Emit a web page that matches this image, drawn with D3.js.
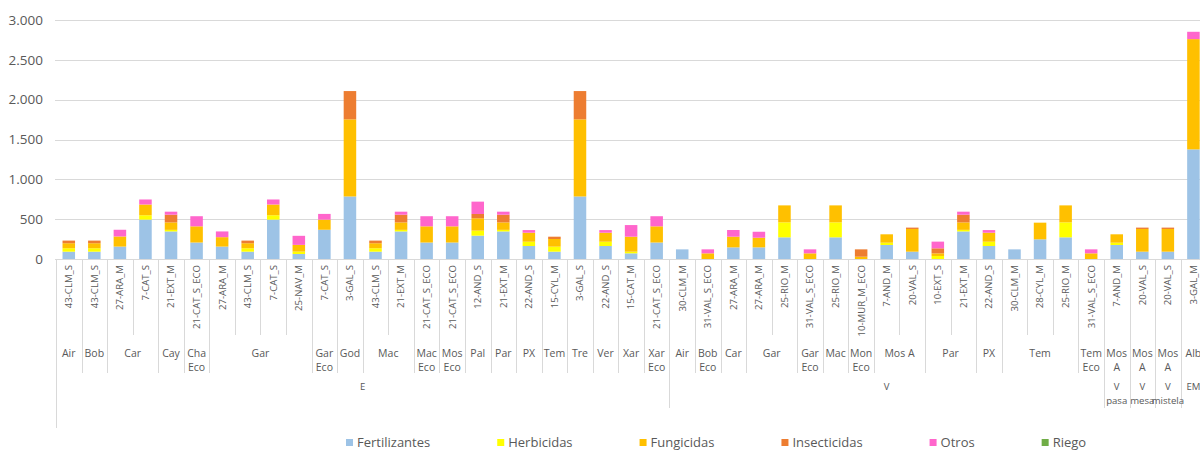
<!DOCTYPE html>
<html>
<head>
<meta charset="utf-8">
<script src="https://cdn.jsdelivr.net/npm/d3@7"></script>
<style>
  body { margin: 0; background: #fff; }
  text { font-family: "Open Sans", sans-serif; fill: #595959; }
</style>
</head>
<body>
<div id="chart"></div>
<script>
var width = 1200,
	height = 450;

// level 1: plot codes
var codes = ["43-CLM_S","43-CLM_S","27-ARA_M","7-CAT_S","21-EXT_M","21-CAT_S_ECO","27-ARA_M","43-CLM_S","7-CAT_S","25-NAV_M",
	"7-CAT_S","3-GAL_S","43-CLM_S","21-EXT_M","21-CAT_S_ECO","21-CAT_S_ECO","12-AND_S","21-EXT_M","22-AND_S","15-CYL_M",
	"3-GAL_S","22-AND_S","15-CAT_M","21-CAT_S_ECO","30-CLM_M","31-VAL_S_ECO","27-ARA_M","27-ARA_M","25-RIO_M","31-VAL_S_ECO",
	"25-RIO_M","10-MUR_M_ECO","7-AND_M","20-VAL_S","10-EXT_S","21-EXT_M","22-AND_S","30-CLM_M","28-CYL_M","25-RIO_M",
	"31-VAL_S_ECO","7-AND_M","20-VAL_S","20-VAL_S","3-GAL_M"];

// level 2: variety
var varieties = ["Air","Bob","Car","Car","Cay","Cha Eco","Gar","Gar","Gar","Gar",
	"Gar Eco","God","Mac","Mac","Mac Eco","Mos Eco","Pal","Par","PX","Tem",
	"Tre","Ver","Xar","Xar Eco","Air","Bob Eco","Car","Gar","Gar","Gar Eco",
	"Mac","Mon Eco","Mos A","Mos A","Par","Par","PX","Tem","Tem","Tem",
	"Tem Eco","Mos A","Mos A","Mos A","Alb"];

// level 3: wine type
var types = ["E","E","E","E","E","E","E","E","E","E",
	"E","E","E","E","E","E","E","E","E","E",
	"E","E","E","E","V","V","V","V","V","V",
	"V","V","V","V","V","V","V","V","V","V",
	"V","V pasa","V mesa","V mistela","EM"];

var fertilizantes = [92,92,156,494,346,207,156,92,494,63,367,785,92,346,207,207,293,346,163,92,785,163,71,207,121,
	0,146,146,272,0,272,0,176,92,0,346,163,121,247,272,0,176,92,92,1376];
var herbicidas = [43,43,0,55,20,0,0,43,55,30,0,0,43,20,0,0,63,20,54,63,0,54,21,0,0,
	0,0,0,188,0,188,0,29,0,38,20,54,0,0,188,0,29,0,0,0];
var fungicidas = [63,63,127,135,93,203,118,63,135,84,127,968,63,93,203,203,155,93,113,96,968,113,188,203,0,
	71,134,121,213,71,213,29,105,285,33,93,113,0,209,213,71,105,285,285,1384];
var insecticidas = [33,33,0,0,97,0,0,33,0,0,0,355,33,97,0,0,54,97,0,29,355,0,0,0,0,
	0,0,0,0,0,0,92,0,17,63,97,0,0,0,0,0,0,17,17,0];
var otros = [0,0,84,63,38,127,72,0,63,114,72,0,0,38,127,127,155,38,33,0,0,33,146,127,0,
	50,84,75,0,50,0,0,0,0,84,38,33,0,0,0,50,0,0,0,92];
var riego = [0,0,0,0,0,0,0,0,0,0,0,0,0,0,0,0,0,0,0,0,0,0,0,0,0,
	0,0,0,0,0,0,0,0,0,0,0,0,0,0,0,0,0,0,0,0];

var seriesNames = ["Fertilizantes","Herbicidas","Fungicidas","Insecticidas","Otros","Riego"];
var seriesValues = [fertilizantes, herbicidas, fungicidas, insecticidas, otros, riego];
var colors = ["#9dc3e6","#ffff00","#ffc000","#ed7d31","#ff66cc","#70ad47"];
var yTicks = [0,500,1000,1500,2000,2500,3000];

var table = codes.map(function(c, i){
	var row = {idx: i};
	seriesNames.forEach(function(s, k){ row[s] = seriesValues[k][i]; });
	return row;
});

var x0 = 56, step = 25.56;
var x = d3.scaleBand()
	.domain(d3.range(codes.length))
	.range([x0, x0 + step * codes.length])
	.paddingInner(0.51)
	.paddingOuter(0.255);
var y = d3.scaleLinear().domain([0, 3000]).range([259, 20]);
var color = d3.scaleOrdinal().domain(seriesNames).range(colors);
var fmt = d3.formatLocale({decimal: ",", thousands: ".", grouping: [3], currency: ["", ""]}).format(",");

var svg = d3.select("#chart").append("svg")
	.attr("width", width)
	.attr("height", height);

// gridlines + labels
svg.selectAll(".grid")
	.data(yTicks)
	.enter().append("line")
	.attr("x1", 55).attr("x2", width)
	.attr("y1", function(d){ return Math.round(y(d)) + 0.5; })
	.attr("y2", function(d){ return Math.round(y(d)) + 0.5; })
	.attr("stroke", "#d9d9d9");

svg.selectAll(".ytick")
	.data(yTicks)
	.enter().append("text")
	.attr("x", 43)
	.attr("y", function(d){ return y(d); })
	.attr("dy", "0.35em")
	.attr("text-anchor", "end")
	.style("font-size", "13.5px")
	.text(function(d){ return fmt(d); });

// stacked bars
var stacked = d3.stack().keys(seriesNames)(table);
svg.selectAll(".layer")
	.data(stacked)
	.enter().append("g")
	.attr("fill", function(d){ return color(d.key); })
	.selectAll("rect")
	.data(function(d){ return d; })
	.enter().append("rect")
	.attr("x", function(d){ return x(d.data.idx); })
	.attr("width", x.bandwidth())
	.attr("y", function(d){ return y(d[1]); })
	.attr("height", function(d){ return y(d[0]) - y(d[1]); });

// separators of the multi-level category axis
var bounds = d3.range(codes.length + 1).map(function(i){
	var end = 335;
	if (i === 0) end = 428;
	else if (i === codes.length || types[i] !== types[i-1]) end = 408;
	else if (varieties[i] !== varieties[i-1]) end = 373;
	return {x: x0 + i * step, end: end};
});
svg.selectAll(".sep")
	.data(bounds)
	.enter().append("line")
	.attr("x1", function(d){ return Math.round(d.x) + 0.5; })
	.attr("x2", function(d){ return Math.round(d.x) + 0.5; })
	.attr("y1", 259).attr("y2", function(d){ return d.end; })
	.attr("stroke", "#d9d9d9");

// level 1 labels
svg.selectAll(".code")
	.data(codes)
	.enter().append("text")
	.attr("transform", function(d, i){
		return "translate(" + (x(i) + x.bandwidth() / 2) + ",265) rotate(-90)";
	})
	.attr("dy", "0.35em")
	.attr("text-anchor", "end")
	.style("font-size", "9.6px")
	.text(function(d){ return d; });

// group consecutive labels into spans
function spans(keyFn, labelFn){
	var out = [];
	codes.forEach(function(c, i){
		var last = out[out.length - 1];
		if (last && last.key === keyFn(i)) last.n++;
		else out.push({key: keyFn(i), label: labelFn(i), start: i, n: 1});
	});
	return out;
}

function drawGroups(groups, yTop, size){
	groups.forEach(function(g){
		var cx = x0 + (g.start + g.n / 2) * step;
		var t = svg.append("text")
			.attr("x", cx).attr("y", yTop)
			.attr("dy", "0.35em")
			.attr("text-anchor", "middle")
			.style("font-size", size)
			.text(g.label);
		if (t.node().getComputedTextLength() > g.n * step - 3 && g.label.indexOf(" ") > 0) {
			t.text(null);
			g.label.split(" ").forEach(function(w, k){
				t.append("tspan").attr("x", cx).attr("y", yTop + k * 14).attr("dy", "0.35em").text(w);
			});
		}
	});
}

drawGroups(spans(function(i){ return types[i] + "|" + varieties[i]; }, function(i){ return varieties[i]; }), 353, "10.5px");
drawGroups(spans(function(i){ return types[i]; }, function(i){ return types[i]; }), 387, "9.6px");

// legend
var lx = 346;
seriesNames.forEach(function(s){
	svg.append("rect")
		.attr("x", lx).attr("y", 439)
		.attr("width", 7).attr("height", 7)
		.attr("fill", color(s));
	var t = svg.append("text")
		.attr("x", lx + 11).attr("y", 442)
		.attr("dy", "0.35em")
		.style("font-size", "13px")
		.text(s);
	lx += 11 + t.node().getComputedTextLength() + 67;
});
</script>
</body>
</html>
